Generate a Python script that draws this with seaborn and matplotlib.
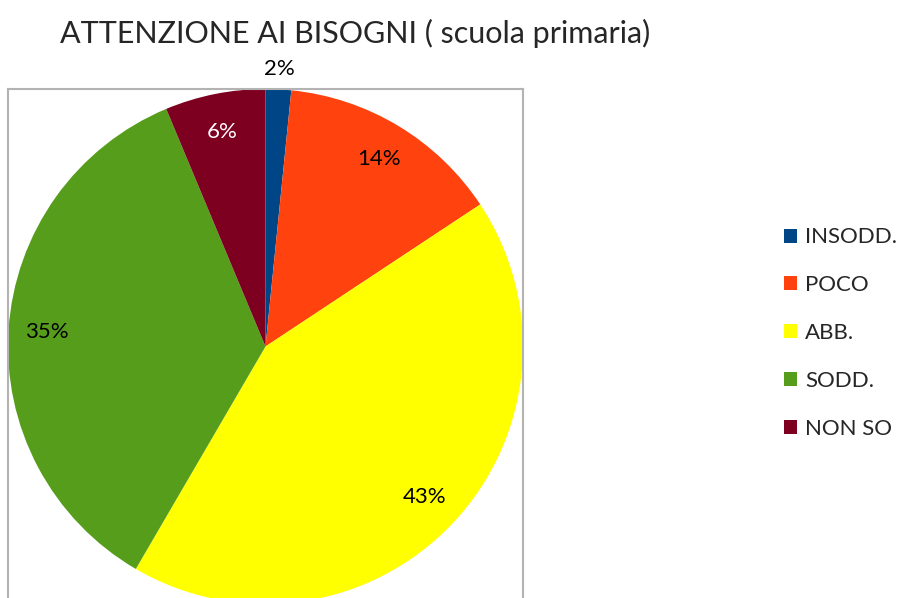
import matplotlib.pyplot as plt
import seaborn as sns

categories = ["INSODD.", "POCO", "ABB.", "SODD.", "NON SO"]
values = [1.6, 14.1, 42.7, 35.3, 6.3]
colors = ["#004586", "#FF420E", "#FFFF00", "#579D1C", "#7E0021"]
title = "ATTENZIONE AI BISOGNI ( scuola primaria)"

sns.set_theme(style="white")
plt.rcParams['font.family'] = ['Lato', 'DejaVu Sans']

W, H = 898, 598
fig = plt.figure(figsize=(W / 100, H / 100), dpi=100)
# axes box in pixels: left 8, right 523, top 89, bottom below the figure edge
ax = fig.add_axes([8 / W, (H - 612) / H, 515 / W, 523 / H])

wedges, texts, autotexts = ax.pie(
    values, colors=colors, startangle=90, counterclock=False,
    autopct=lambda p: f"{p:.0f}%", pctdistance=0.85, radius=1.0,
    center=(0, 0), wedgeprops=dict(linewidth=0), frame=True,
    textprops=dict(fontsize=16, color="black"))
autotexts[4].set_color("white")
# small slice label sits outside the pie
x, y = autotexts[0].get_position()
autotexts[0].set_position((x / 0.85 * 1.08, y / 0.85 * 1.08))

ax.set_xlim(-1.0, 1.0)
ax.set_ylim(1.0 - 523 / 257.5, 1.0)
ax.set_aspect("auto")
ax.set_xticks([])
ax.set_yticks([])
ax.set_frame_on(True)
for s in ax.spines.values():
    s.set_visible(True)
    s.set_color("#B3B3B3")
    s.set_linewidth(1.5)

fig.text(355 / W, 1 - 33 / H, title, ha="center", va="center", fontsize=22)

fig.legend(wedges, categories, loc="center left",
           bbox_to_anchor=(784 / W, 1 - 333 / H), frameon=False,
           borderaxespad=0, borderpad=0,
           fontsize=16, handlelength=0.6, handleheight=0.6,
           handletextpad=0.35, labelspacing=1.25)

fig.savefig("out.png", dpi=100)
